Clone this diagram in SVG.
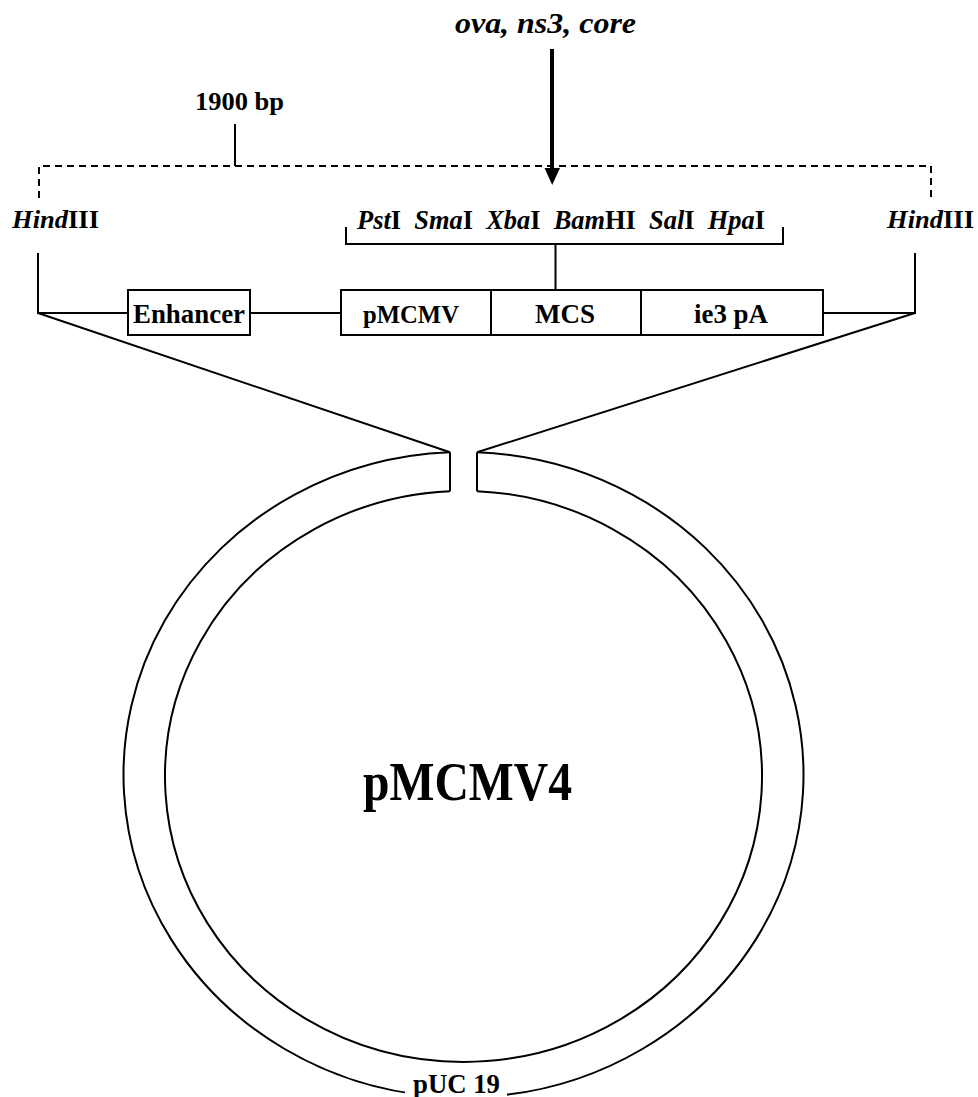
<svg xmlns="http://www.w3.org/2000/svg" width="978" height="1097" viewBox="0 0 978 1097">
<style>
  .ln{stroke:#000;stroke-width:2;fill:none}
  .dash{stroke:#000;stroke-width:2;fill:none;stroke-dasharray:7 5}
  .box{stroke:#000;stroke-width:2;fill:#fff}
  text{font-family:"Liberation Serif","Times New Roman",serif;font-weight:bold;fill:#000}
  .it{font-style:italic}
</style>
<rect width="978" height="1097" fill="#fff"/>
<g id="connectors">
  <line class="ln" x1="552" y1="49" x2="552" y2="170" style="stroke-width:4"/>
  <polygon points="544.5,168 560,168 552.2,185" fill="#000"/>
  <line class="ln" x1="235" y1="124" x2="235" y2="166"/>
  <path class="dash" d="M39 198 V166 H931 V200"/>
  <path class="ln" d="M346 227 V244 H783 V227"/>
  <line class="ln" x1="555.5" y1="244" x2="555.5" y2="290"/>
  <path class="ln" d="M38 253 V313 H128"/>
  <line class="ln" x1="250" y1="313" x2="341" y2="313"/>
  <path class="ln" d="M915 253 V313 H823"/>
  <line class="ln" x1="38" y1="313" x2="450" y2="452.3"/>
  <line class="ln" x1="915" y1="313" x2="477" y2="452.3"/>
</g>
<g id="plasmid">
  <path class="ln" d="M450 452.3 A340 322.6 0 1 0 477 452.3"/>
  <path class="ln" d="M450 491.2 A298.5 285.5 0 1 0 477 491.2"/>
  <line class="ln" x1="450" y1="452.3" x2="450" y2="491.2"/>
  <line class="ln" x1="477" y1="452.3" x2="477" y2="491.2"/>
  <text x="363" y="800" font-size="54" textLength="209" lengthAdjust="spacingAndGlyphs">pMCMV4</text>
</g>
<g id="puc19">
  <rect x="405" y="1068" width="102" height="29" fill="#fff"/>
  <text x="413" y="1093" font-size="27" textLength="87" lengthAdjust="spacingAndGlyphs">pUC 19</text>
</g>
<g id="insert-label">
  <text class="it" x="455" y="33" font-size="29" textLength="181" lengthAdjust="spacingAndGlyphs">ova, ns3, core</text>
</g>
<g id="size-label">
  <text x="195" y="110" font-size="26" textLength="89" lengthAdjust="spacingAndGlyphs">1900 bp</text>
</g>
<g id="hind-left">
  <text x="12" y="228" font-size="26" textLength="87" lengthAdjust="spacingAndGlyphs"><tspan class="it">Hind</tspan>III</text>
</g>
<g id="hind-right">
  <text x="887" y="228" font-size="26" textLength="87" lengthAdjust="spacingAndGlyphs"><tspan class="it">Hind</tspan>III</text>
</g>
<g id="sites">
  <text x="357" y="229" font-size="27" textLength="408" lengthAdjust="spacingAndGlyphs" xml:space="preserve"><tspan class="it">Pst</tspan>I  <tspan class="it">Sma</tspan>I  <tspan class="it">Xba</tspan>I  <tspan class="it">Bam</tspan>HI  <tspan class="it">Sal</tspan>I  <tspan class="it">Hpa</tspan>I</text>
</g>
<g id="enhancer">
  <rect class="box" x="128" y="290" width="122" height="45"/>
  <text x="133" y="323" font-size="27" textLength="112" lengthAdjust="spacingAndGlyphs">Enhancer</text>
</g>
<g id="pmcmv">
  <rect class="box" x="341" y="290" width="150" height="45"/>
  <text x="363" y="323" font-size="26" textLength="96" lengthAdjust="spacingAndGlyphs">pMCMV</text>
</g>
<g id="mcs">
  <rect class="box" x="491" y="290" width="150" height="45"/>
  <text x="535" y="323" font-size="27" textLength="60" lengthAdjust="spacingAndGlyphs">MCS</text>
</g>
<g id="ie3pa">
  <rect class="box" x="641" y="290" width="182" height="45"/>
  <text x="694" y="323" font-size="27" textLength="74" lengthAdjust="spacingAndGlyphs">ie3 pA</text>
</g>
</svg>
